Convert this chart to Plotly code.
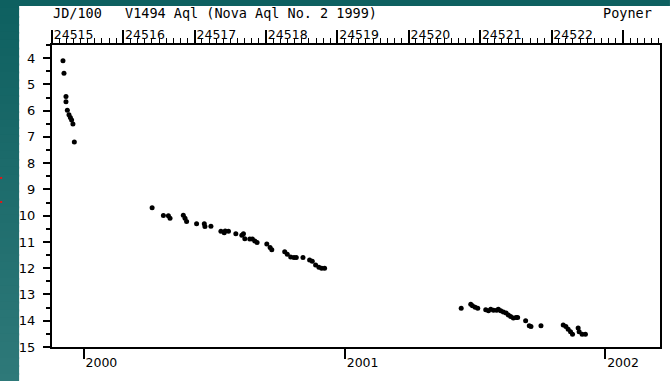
import plotly.graph_objects as go

# V1494 Aql (Nova Aql No. 2 1999) - visual estimates, Julian Date vs magnitude
jd_outburst = [2451515.4, 2451516.8, 2451519.6, 2451519.6, 2451521.5,
               2451523.8, 2451525.7, 2451527.5, 2451529.3, 2451531.3]
mag_outburst = [4.10, 4.58, 5.46, 5.66, 5.98, 6.16, 6.26, 6.36, 6.51, 7.19]

jd_2000 = [2451640.3, 2451656.1, 2451663.1, 2451665.4, 2451684.0, 2451686.4,
           2451688.6, 2451702.6, 2451713.4, 2451714.3, 2451722.7, 2451736.7,
           2451741.3, 2451742.7, 2451747.3, 2451757.6, 2451766.0, 2451768.3,
           2451770.2, 2451777.2, 2451780.8, 2451784.2, 2451787.4, 2451801.0,
           2451805.6, 2451808.0, 2451826.1, 2451829.7, 2451834.5, 2451839.1,
           2451842.3, 2451851.7, 2451861.0, 2451864.7, 2451869.4, 2451874.0,
           2451877.8, 2451882.0]
mag_2000 = [9.70, 9.99, 10.00, 10.10, 9.98, 10.10,
            10.22, 10.31, 10.31, 10.41, 10.40, 10.59,
            10.65, 10.58, 10.59, 10.69, 10.74, 10.69,
            10.88, 10.89, 10.89, 10.96, 11.02, 11.08,
            11.21, 11.30, 11.37, 11.47, 11.57, 11.59,
            11.59, 11.59, 11.69, 11.73, 11.88, 11.96,
            12.00, 12.00]

jd_2001 = [2452073.4, 2452086.8, 2452089.2, 2452093.0, 2452096.6, 2452107.8,
           2452111.6, 2452114.8, 2452118.6, 2452123.2, 2452125.5, 2452128.8,
           2452132.5, 2452136.3, 2452139.5, 2452142.7, 2452146.5, 2452150.3,
           2452152.5, 2452163.7, 2452168.8, 2452171.2, 2452185.2, 2452216.4,
           2452220.1, 2452223.3, 2452226.6, 2452229.4, 2452237.3, 2452238.7,
           2452242.9, 2452247.5]
mag_2001 = [13.52, 13.37, 13.43, 13.49, 13.52, 13.58,
            13.62, 13.56, 13.60, 13.60, 13.56, 13.62,
            13.67, 13.71, 13.78, 13.84, 13.90, 13.88,
            13.88, 14.00, 14.19, 14.22, 14.19, 14.16,
            14.22, 14.32, 14.42, 14.51, 14.28, 14.42,
            14.51, 14.51]

# top axis: JD/100 labels
jd_tickvals = [2451500, 2451600, 2451700, 2451800, 2451900,
               2452000, 2452100, 2452200, 2452300]
jd_ticktext = ["24515", "24516", "24517", "24518", "24519",
               "24520", "24521", "24522", ""]
# bottom axis: calendar years (JD of 1 January)
year_tickvals = [2451544.5, 2451910.5, 2452275.5]
year_ticktext = ["2000", "2001", "2002"]

jd_all = jd_outburst + jd_2000 + jd_2001
mag_all = mag_outburst + mag_2000 + mag_2001

W, H = 670, 381
ML, MR, MT, MB = 52, 8, 45, 34
PW, PH = W - ML - MR, H - MT - MB


def px_x(px):
    return (px - ML) / PW


def px_y(py):
    return (H - MB - py) / PH


fig = go.Figure()
fig.add_trace(go.Scatter(
    x=jd_all, y=mag_all, mode="markers",
    marker=dict(size=5, color="black", line=dict(width=0)),
    showlegend=False, hoverinfo="x+y",
))
# invisible copy so the top JD axis has a subplot of its own
fig.add_trace(go.Scatter(
    x=jd_all, y=mag_all, mode="markers", xaxis="x2",
    marker=dict(size=5, color="black", opacity=0),
    showlegend=False, hoverinfo="skip",
))

# teal frame round the white page (left strip shades lighter downwards)
shapes = []
top_col = (14, 96, 96)
bot_col = (46, 121, 121)
n_bands = 48
for i in range(n_bands):
    t = i / (n_bands - 1)
    c = tuple(round(a + (b - a) * t) for a, b in zip(top_col, bot_col))
    y0 = H * i / n_bands
    y1 = H * (i + 1) / n_bands + 2
    shapes.append(dict(type="rect", xref="paper", yref="paper",
                       x0=px_x(-2), x1=px_x(19), y0=px_y(y1), y1=px_y(y0),
                       fillcolor="rgb(%d,%d,%d)" % c, line=dict(width=0),
                       layer="below"))
shapes.append(dict(type="rect", xref="paper", yref="paper",
                   x0=px_x(-2), x1=px_x(W + 2), y0=px_y(6), y1=px_y(-2),
                   fillcolor="rgb(14,96,96)", line=dict(width=0), layer="below"))
for ry in (177, 201):
    shapes.append(dict(type="rect", xref="paper", yref="paper",
                       x0=px_x(0), x1=px_x(2), y0=px_y(ry + 2), y1=px_y(ry),
                       fillcolor="rgb(230,20,20)", line=dict(width=0), layer="above"))

mono = "DejaVu Sans Mono"
sans = "DejaVu Sans"

fig.update_layout(
    width=W, height=H,
    margin=dict(l=ML, r=MR, t=MT, b=MB, pad=0),
    paper_bgcolor="white", plot_bgcolor="white",
    shapes=shapes,
    xaxis=dict(
        range=[2451500, 2452352], showgrid=False, zeroline=False,
        showline=True, linewidth=2, linecolor="black",
        tickmode="array", tickvals=year_tickvals, ticktext=year_ticktext,
        ticks="outside", ticklen=10, tickwidth=1.5, tickcolor="black",
        ticklabelposition="outside right", ticklabelstandoff=3,
        tickfont=dict(family=sans, size=12.5, color="black"),
    ),
    xaxis2=dict(
        overlaying="x", side="top", matches="x", anchor="y",
        showgrid=False, zeroline=False,
        showline=True, linewidth=2, linecolor="black",
        tickmode="array", tickvals=jd_tickvals, ticktext=jd_ticktext,
        ticks="outside", ticklen=13, tickwidth=1.5, tickcolor="black",
        ticklabelposition="outside right", ticklabelstandoff=-1,
        tickfont=dict(family=sans, size=12.5, color="black"),
        minor=dict(ticks="outside", dtick=10, tick0=2451500, ticklen=5,
                   tickwidth=1.2, tickcolor="black", showgrid=False),
    ),
    yaxis=dict(
        range=[15, 3.5], showgrid=False, zeroline=False,
        showline=True, linewidth=2, linecolor="black", mirror=True,
        tickmode="linear", tick0=4, dtick=1,
        ticks="outside", ticklen=7, tickwidth=1.5, tickcolor="black",
        ticklabelstandoff=5,
        tickfont=dict(family=sans, size=13, color="black"),
        minor=dict(ticks="outside", dtick=0.5, tick0=3.5, ticklen=4,
                   tickwidth=1.5, tickcolor="black", showgrid=False),
    ),
    annotations=[
        dict(text="JD/100", xref="paper", yref="paper", x=px_x(51), y=px_y(13),
             xanchor="left", yanchor="middle", showarrow=False,
             font=dict(family=mono, size=13.5, color="black")),
        dict(text="V1494 Aql (Nova Aql No. 2 1999)", xref="paper", yref="paper",
             x=px_x(123), y=px_y(13), xanchor="left", yanchor="middle",
             showarrow=False, font=dict(family=mono, size=13.5, color="black")),
        dict(text="Poyner", xref="paper", yref="paper", x=px_x(656), y=px_y(13),
             xanchor="right", yanchor="middle", showarrow=False,
             font=dict(family=mono, size=13.5, color="black")),
    ],
)

fig.write_html("out.html")
